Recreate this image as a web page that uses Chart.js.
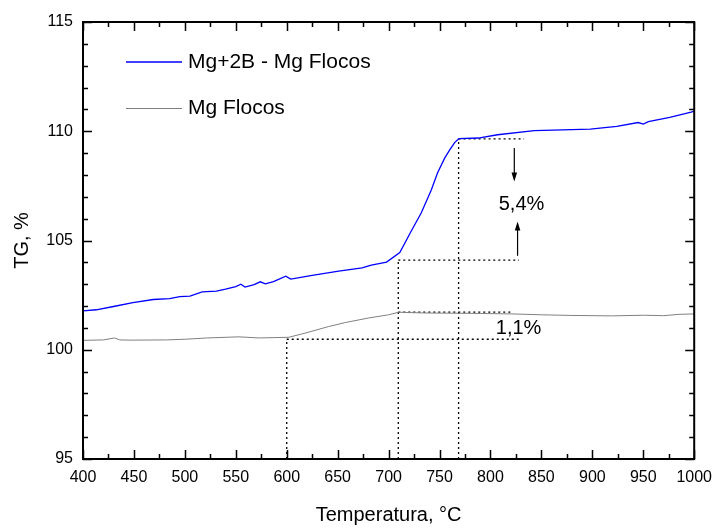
<!DOCTYPE html>
<html>
<head>
<meta charset="utf-8">
<script src="https://cdn.jsdelivr.net/npm/chart.js@4.4.1/dist/chart.umd.min.js"></script>
<style>
  html, body { margin: 0; padding: 0; background: #fff; }
  canvas { display: block; }
</style>
</head>
<body>
<canvas id="tgChart" width="721" height="531"></canvas>
<script>
// Mg+2B - Mg Flocos
const tempBoro = [400, 413, 430, 449, 469, 485, 495, 505, 517, 531, 540, 550, 555, 559, 568, 574, 579, 587,
  599, 604, 625, 651, 674, 683, 698, 711, 722, 732, 742, 748, 755, 760, 765, 769, 788, 807, 843, 898, 924,
  945, 950, 955, 976, 997, 1000];
const tgBoro = [101.78, 101.83, 101.98, 102.16, 102.30, 102.34, 102.43, 102.45, 102.65, 102.68, 102.77, 102.89,
  103.00, 102.87, 102.98, 103.11, 103.02, 103.12, 103.37, 103.23, 103.40, 103.60, 103.75, 103.87, 104.01,
  104.45, 105.41, 106.26, 107.32, 108.09, 108.77, 109.15, 109.49, 109.66, 109.69, 109.84, 110.03, 110.10,
  110.22, 110.40, 110.33, 110.44, 110.63, 110.88, 110.92];

// Mg Flocos
const tempMg = [400, 420, 431, 436, 446, 482, 500, 522, 553, 573, 602, 618, 641, 657, 680, 700, 710, 720, 740,
  769, 790, 821, 850, 880, 919, 950, 970, 985, 1000];
const tgMg = [100.43, 100.45, 100.54, 100.45, 100.44, 100.45, 100.48, 100.54, 100.59, 100.54, 100.57, 100.76,
  101.06, 101.24, 101.45, 101.60, 101.72, 101.70, 101.68, 101.67, 101.66, 101.64, 101.60, 101.57, 101.55,
  101.58, 101.56, 101.62, 101.64];

const seriesNames = ['Mg+2B - Mg Flocos', 'Mg Flocos'];
const seriesColors = ['#0000ff', '#808080'];

// dotted construction lines, [x0, x1] with [y0, y1]
const guideX = [[600, 600], [600, 830], [709.5, 709.5], [709.5, 828], [709.5, 820], [768.7, 768.7], [768.7, 833]];
const guideY = [[95, 100.48], [100.48, 100.48], [95, 104.1], [104.1, 104.1], [101.72, 101.72], [95, 109.65], [109.65, 109.65]];

// mass change labels and their arrows (x, y from, y to)
const stepLabels = ['5,4%', '1,1%'];
const stepLabelX = [830.5, 827.6];
const stepLabelY = [106.67, 100.99];
const arrowX = [823.4, 826.6];
const arrowFrom = [109.23, 104.30];
const arrowTo = [107.70, 105.87];

const FONT = "'Liberation Sans', Arial, sans-serif";

function xy(xs, ys) {
  return xs.map((x, i) => ({ x: x, y: ys[i] }));
}

const datasets = [
  { data: xy(tempBoro, tgBoro), borderColor: seriesColors[0], borderWidth: 1.3 },
  { data: xy(tempMg, tgMg), borderColor: seriesColors[1], borderWidth: 1 }
];
guideX.forEach((gx, i) => {
  datasets.push({
    data: xy(gx, guideY[i]),
    borderColor: '#000',
    borderWidth: 1.3,
    borderDash: [2, 3]
  });
});
datasets.forEach(d => {
  d.pointRadius = 0;
  d.tension = 0;
  d.fill = false;
});

const frame = {
  id: 'frame',
  afterDraw(chart) {
    const ctx = chart.ctx;
    const { left, right, top, bottom } = chart.chartArea;
    const xs = chart.scales.x, ys = chart.scales.y;
    ctx.save();
    ctx.strokeStyle = '#000';
    ctx.fillStyle = '#000';

    // inward ticks on all four sides
    ctx.lineWidth = 1.5;
    ctx.beginPath();
    for (let v = 400; v <= 1000; v += 25) {
      const len = v % 50 === 0 ? 9 : 5;
      const px = Math.round(xs.getPixelForValue(v)) + 0.5;
      ctx.moveTo(px, bottom); ctx.lineTo(px, bottom - len);
      ctx.moveTo(px, top); ctx.lineTo(px, top + len);
    }
    for (let v = 95; v <= 115; v += 1) {
      const len = v % 5 === 0 ? 9 : 5;
      const py = Math.round(ys.getPixelForValue(v)) + 0.5;
      ctx.moveTo(left, py); ctx.lineTo(left + len, py);
      ctx.moveTo(right, py); ctx.lineTo(right - len, py);
    }
    ctx.stroke();

    ctx.lineWidth = 2;
    ctx.strokeRect(left, top, right - left, bottom - top);

    // arrows
    ctx.lineWidth = 1.2;
    arrowX.forEach((ax, i) => {
      const px = xs.getPixelForValue(ax);
      const y0 = ys.getPixelForValue(arrowFrom[i]);
      const y1 = ys.getPixelForValue(arrowTo[i]);
      const dir = y1 > y0 ? 1 : -1;
      ctx.beginPath();
      ctx.moveTo(px, y0); ctx.lineTo(px, y1 - dir * 6);
      ctx.stroke();
      ctx.beginPath();
      ctx.moveTo(px, y1);
      ctx.lineTo(px - 2.8, y1 - dir * 9);
      ctx.lineTo(px + 2.8, y1 - dir * 9);
      ctx.closePath();
      ctx.fill();
    });

    // step labels
    ctx.font = '20px ' + FONT;
    ctx.textAlign = 'center';
    ctx.textBaseline = 'middle';
    stepLabels.forEach((t, i) => {
      ctx.fillText(t, xs.getPixelForValue(stepLabelX[i]), ys.getPixelForValue(stepLabelY[i]));
    });

    // legend
    ctx.font = '21px ' + FONT;
    ctx.textAlign = 'left';
    seriesNames.forEach((name, i) => {
      const ly = 62 + i * 46.5;
      ctx.strokeStyle = seriesColors[i];
      ctx.lineWidth = i === 0 ? 1.3 : 1;
      ctx.beginPath();
      ctx.moveTo(126, ly); ctx.lineTo(182, ly);
      ctx.stroke();
      ctx.fillText(name, 188, ly);
    });
    ctx.restore();
  }
};

Chart.defaults.color = '#000';
Chart.defaults.font.family = FONT;

new Chart(document.getElementById('tgChart').getContext('2d'), {
  type: 'line',
  data: { datasets: datasets },
  options: {
    responsive: false,
    animation: false,
    events: [],
    layout: { padding: { top: 22, right: 23, left: 0, bottom: 0 } },
    plugins: { legend: { display: false }, tooltip: { enabled: false } },
    scales: {
      x: {
        type: 'linear',
        min: 400,
        max: 1000,
        ticks: { stepSize: 50, font: { size: 16 }, padding: 9, maxRotation: 0, callback: v => String(v) },
        grid: { display: false, drawTicks: false },
        border: { display: false },
        title: { display: true, text: 'Temperatura, °C', font: { size: 20 }, padding: { top: 0, bottom: 4 } },
        afterFit(scale) { scale.height = 72; }
      },
      y: {
        min: 95,
        max: 115,
        ticks: { stepSize: 5, font: { size: 16 }, padding: 10, callback: v => String(v) },
        grid: { display: false, drawTicks: false },
        border: { display: false },
        title: { display: true, text: 'TG, %', font: { size: 20 }, padding: { top: 10, bottom: 0 } },
        afterFit(scale) { scale.width = 83; }
      }
    }
  },
  plugins: [frame]
});
</script>
</body>
</html>
